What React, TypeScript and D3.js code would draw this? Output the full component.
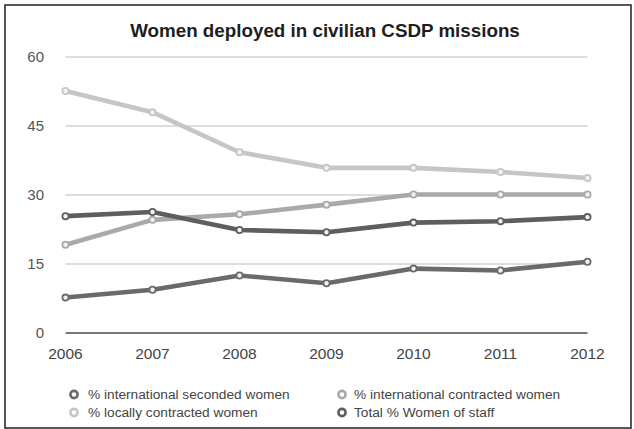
import React from "react";
import * as d3 from "d3";

const years = [2006, 2007, 2008, 2009, 2010, 2011, 2012];
const yTicks = [0, 15, 30, 45, 60];

const secondedWomen = [7.7, 9.4, 12.5, 10.8, 14.0, 13.6, 15.5];
const contractedWomen = [19.2, 24.6, 25.8, 27.9, 30.1, 30.1, 30.1];
const localWomen = [52.6, 48.0, 39.3, 35.9, 35.9, 35.0, 33.7];
const totalWomen = [25.4, 26.3, 22.4, 21.9, 24.0, 24.3, 25.2];

const seriesNames = [
  "% international seconded women",
  "% international contracted women",
  "% locally contracted women",
  "Total % Women of staff",
];
const seriesColors = ["#6a6a6a", "#a9a9a9", "#c6c6c6", "#5e5e5e"];

const W = 634;
const H = 429;
const font = "'Liberation Sans', Arial, Helvetica, sans-serif";

export default function App() {
  const x = d3.scalePoint<number>().domain(years).range([65.5, 587.5]);
  const y = d3.scaleLinear().domain([0, 60]).range([333, 57]);

  const series = [
    { name: seriesNames[0], color: seriesColors[0], values: secondedWomen },
    { name: seriesNames[1], color: seriesColors[1], values: contractedWomen },
    { name: seriesNames[2], color: seriesColors[2], values: localWomen },
    { name: seriesNames[3], color: seriesColors[3], values: totalWomen },
  ];
  // draw order: lightest underneath, dark lines on top
  const drawOrder = [2, 1, 0, 3];

  const line = d3
    .line<number>()
    .x((_, i) => x(years[i]) as number)
    .y((v) => y(v));

  const legendPos = [
    { mx: 74, tx: 88, ty: 394.5 },
    { mx: 342, tx: 354, ty: 394.5 },
    { mx: 74, tx: 88, ty: 412.5 },
    { mx: 342, tx: 354, ty: 412.5 },
  ];

  return (
    <svg
      width={W}
      height={H}
      style={{ position: "absolute", left: 0, top: 0, background: "#fff" }}
      fontFamily={font}
    >
      <rect x={0} y={0} width={W} height={H} fill="#fff" />
      <rect x={5} y={5} width={626} height={423} fill="none" stroke="#2e2e2e" strokeWidth={1.6} />

      <text
        x={325}
        y={37}
        textAnchor="middle"
        fontSize={18.8}
        fontWeight="bold"
        fill="#1e1e1e"
      >
        Women deployed in civilian CSDP missions
      </text>

      {yTicks.map((t) => (
        <g key={t}>
          {t !== 0 && (
            <line
              x1={x(years[0])}
              x2={x(years[years.length - 1])}
              y1={y(t)}
              y2={y(t)}
              stroke="#d2d2d2"
              strokeWidth={1.6}
            />
          )}
          <text
            x={44}
            y={y(t)}
            dy="0.36em"
            textAnchor="end"
            fontSize={15}
            fill="#555"
          >
            {t}
          </text>
        </g>
      ))}
      <line
        x1={x(years[0])}
        x2={x(years[years.length - 1])}
        y1={y(0)}
        y2={y(0)}
        stroke="#777"
        strokeWidth={1.8}
      />

      {years.map((yr) => (
        <text
          key={yr}
          x={x(yr)}
          y={358.5}
          textAnchor="middle"
          fontSize={15.5}
          fill="#444"
        >
          {yr}
        </text>
      ))}

      {drawOrder.map((si) => {
        const s = series[si];
        return (
          <g key={s.name}>
            <path
              d={line(s.values) || ""}
              fill="none"
              stroke={s.color}
              strokeWidth={4.6}
              strokeLinejoin="round"
              strokeLinecap="round"
            />
            {s.values.map((v, i) => (
              <circle
                key={i}
                cx={x(years[i])}
                cy={y(v)}
                r={3.1}
                fill="#f2f2f2"
                stroke={s.color}
                strokeWidth={1.8}
              />
            ))}
          </g>
        );
      })}

      {series.map((s, i) => {
        const p = legendPos[i];
        return (
          <g key={s.name}>
            <circle cx={p.mx} cy={p.ty} r={3.6} fill="#fff" stroke={s.color} strokeWidth={2.6} />
            <text x={p.tx} y={p.ty} dy="0.35em" fontSize={13.7} fill="#444">
              {s.name}
            </text>
          </g>
        );
      })}
    </svg>
  );
}
